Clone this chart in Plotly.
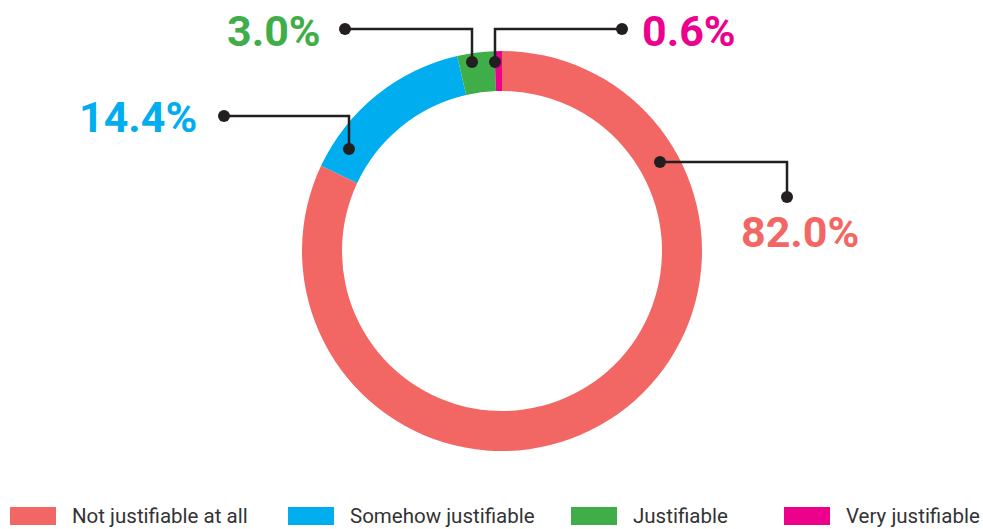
import plotly.graph_objects as go

categories = ["Not justifiable at all", "Somehow justifiable", "Justifiable", "Very justifiable"]
values = [82.0, 14.4, 3.0, 0.6]
colors = ["#F26764", "#00AEEF", "#3FAE49", "#EC008C"]
label_texts = ["82.0%", "14.4%", "3.0%", "0.6%"]

W, H = 983, 529
def px(x):
    return x / W
def py(y):
    return 1 - y / H

# pie geometry (pixels in target picture)
cx, cy, R = 502, 251, 200

fig = go.Figure(go.Pie(
    labels=categories, values=values, hole=0.80, sort=False,
    direction="clockwise", rotation=0,
    marker=dict(colors=colors, line=dict(width=0)),
    textinfo="none", showlegend=False,
    domain=dict(x=[px(cx - R), px(cx + R)], y=[py(cy + R), py(cy - R)]),
))

shapes = []
annotations = []
LC = "#231F20"

leaders = [
    [(660, 162), (787, 162), (787, 197)],
    [(349, 149), (349, 116), (224, 116)],
    [(472, 62), (472, 29), (345, 29)],
    [(495, 62), (495, 29), (622, 29)],
]
label_pos = [
    (800, 232, "center"),
    (199, 117, "right"),
    (323, 31, "right"),
    (640, 31, "left"),
]
for i, pts in enumerate(leaders):
    path = "M " + " L ".join(f"{px(x)},{py(y)}" for x, y in pts)
    shapes.append(dict(type="path", xref="paper", yref="paper", path=path,
                       line=dict(color=LC, width=2.5)))
    for (x, y) in (pts[0], pts[-1]):
        r = 6
        shapes.append(dict(type="circle", xref="paper", yref="paper",
                           x0=px(x - r), x1=px(x + r), y0=py(y + r), y1=py(y - r),
                           fillcolor=LC, line=dict(width=0)))
    lx, ly, anc = label_pos[i]
    annotations.append(dict(x=px(lx), y=py(ly), xref="paper", yref="paper",
                            text=f"<b>{label_texts[i]}</b>", showarrow=False,
                            xanchor=anc, yanchor="middle",
                            font=dict(family="Roboto", size=43, color=colors[i])))

# manual legend
leg_box_x = [10, 288, 571, 784]
for i, name in enumerate(categories):
    x0 = leg_box_x[i]
    shapes.append(dict(type="rect", xref="paper", yref="paper",
                       x0=px(x0), x1=px(x0 + 46), y0=py(525), y1=py(507),
                       fillcolor=colors[i], line=dict(width=0)))
    annotations.append(dict(x=px(x0 + 60), y=py(516), xref="paper", yref="paper",
                            text=name, showarrow=False, xanchor="left", yanchor="middle",
                            font=dict(family="Roboto", size=20.5, color="#333333")))

fig.update_layout(
    width=W, height=H, margin=dict(l=0, r=0, t=0, b=0),
    paper_bgcolor="white", plot_bgcolor="white",
    shapes=shapes, annotations=annotations, showlegend=False,
)
fig.write_html("out.html", config={"displayModeBar": False},
               post_script="document.body.style.margin='0';document.body.style.overflow='hidden';")
